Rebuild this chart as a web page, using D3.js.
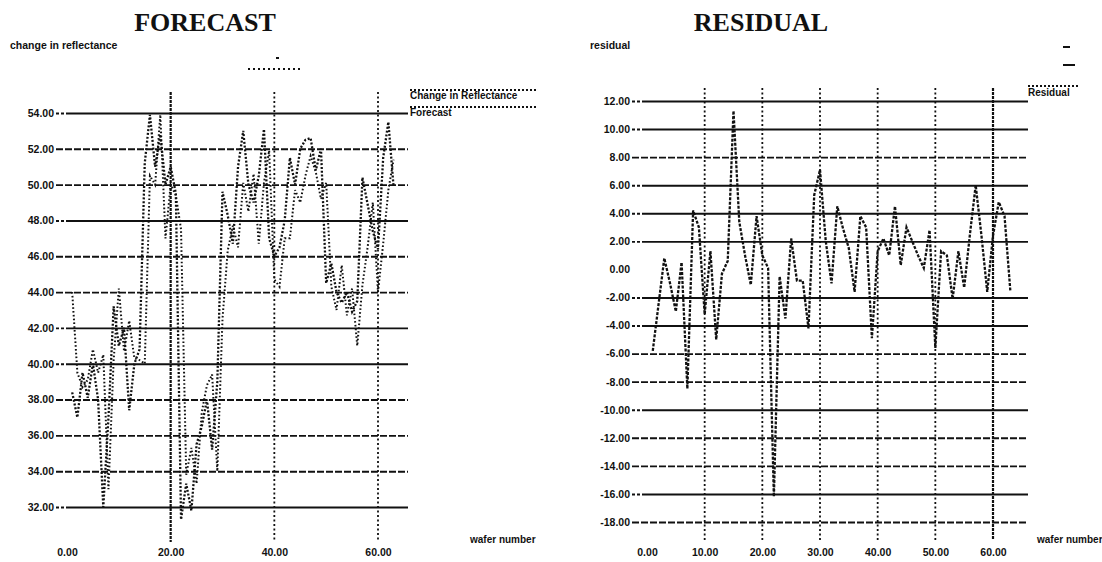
<!DOCTYPE html>
<html>
<head>
<meta charset="utf-8">
<script src="https://cdn.jsdelivr.net/npm/d3@7"></script>
<style>
  body { margin: 0; background: #fff; }
  svg text { font-family: "Liberation Sans", Arial, sans-serif; font-weight: bold; fill: #111; }
  svg .title { font-family: "Liberation Serif", "Times New Roman", serif; }
</style>
</head>
<body>
<svg id="chart" width="1102" height="562"></svg>
<script>
// wafer index (about 63 wafers)
const wafer = [1, 2, 3, 4, 5, 6, 7, 8, 9, 10, 11, 12, 13, 14, 15, 16, 17, 18, 19, 20,
  21, 22, 23, 24, 25, 26, 27, 28, 29, 30, 31, 32, 33, 34, 35, 36, 37, 38, 39, 40,
  41, 42, 43, 44, 45, 46, 47, 48, 49, 50, 51, 52, 53, 54, 55, 56, 57, 58, 59, 60,
  61, 62, 63];

const reflectance = [38.4, 37.0, 39.5, 38.1, 40.0, 38.0, 32.0, 37.0, 43.2, 41.0,
  42.0, 37.4, 40.0, 40.8, 51.2, 53.9, 51.0, 52.8, 50.0, 51.0,
  49.5, 31.3, 33.3, 31.8, 35.5, 36.5, 38.0, 35.2, 39.0, 49.6,
  48.3, 46.7, 51.0, 53.0, 50.0, 49.0, 50.5, 53.1, 47.0, 46.0,
  46.5, 48.0, 51.5, 50.0, 52.0, 52.5, 52.6, 50.8, 52.0, 44.5,
  45.6, 44.0, 43.4, 44.0, 42.9, 43.5, 50.4, 48.9, 47.4, 46.4,
  51.5, 53.5, 49.9];

const forecast = [44.0, 39.5, 38.7, 39.1, 40.8, 39.5, 40.5, 33.0, 40.2, 44.2,
  40.7, 42.4, 40.3, 40.2, 40.0, 50.5, 50.0, 53.9, 47.0, 50.0,
  49.4, 47.5, 33.8, 35.3, 33.3, 37.3, 38.8, 39.4, 34.0, 42.5,
  46.3, 47.7, 46.5, 50.1, 48.5, 50.6, 46.7, 50.1, 51.9, 44.7,
  44.3, 47.0, 47.0, 49.7, 49.0, 50.5, 51.6, 50.7, 49.2, 50.1,
  44.3, 43.0, 45.5, 42.7, 44.2, 41.0, 44.4, 46.5, 49.0, 44.0,
  46.7, 49.7, 51.4];

const residual = [-5.8, -2.5, 0.8, -1.0, -3.0, 0.5, -8.5, 4.2, 3.0, -3.2,
  1.3, -5.0, -0.3, 0.6, 11.3, 3.4, 1.0, -1.1, 3.8, 1.0,
  0.1, -16.2, -0.5, -3.5, 2.2, -0.8, -0.8, -4.2, 5.3, 7.1,
  2.0, -1.0, 4.5, 2.9, 1.5, -1.6, 3.8, 3.0, -4.9, 1.3,
  2.2, 1.0, 4.5, 0.3, 3.0, 2.0, 1.0, 0.1, 2.8, -5.6,
  1.3, 1.0, -2.1, 1.3, -1.3, 2.5, 6.0, 2.4, -1.6, 2.4,
  4.8, 3.8, -1.5];

const forecastYTicks = [32, 34, 36, 38, 40, 42, 44, 46, 48, 50, 52, 54];
const forecastXTicks = [0, 20, 40, 60];
const forecastVLines = [20, 40, 60];
const residualYTicks = [-18, -16, -14, -12, -10, -8, -6, -4, -2, 0, 2, 4, 6, 8, 10, 12];
const residualXTicks = [0, 10, 20, 30, 40, 50, 60];
const residualVLines = [10, 20, 30, 40, 50, 60];

const svg = d3.select('#chart');
const fmt = d3.format('.2f');

function panel(o) {
  const g = svg.append('g');
  const x = d3.scaleLinear().domain([0, 60]).range(o.xRange);
  const y = d3.scaleLinear().domain(o.yDomain).range(o.yRange);

  g.append('text')
    .attr('class', 'title')
    .attr('x', o.titleX).attr('y', 31)
    .attr('text-anchor', 'middle')
    .attr('font-size', 26)
    .text(o.title);

  g.append('text')
    .attr('x', o.yLabelX).attr('y', 49)
    .attr('font-size', 10.5)
    .text(o.yLabel);

  // horizontal grid with the tick labels
  g.append('g')
    .attr('transform', `translate(${o.axisX},0)`)
    .call(d3.axisLeft(y).tickValues(o.yTicks).tickFormat(d => fmt(d).replace('−', '-'))
      .tickSize(-(o.gridEnd - o.axisX)).tickPadding(2))
    .call(a => a.select('.domain').remove())
    .call(a => a.selectAll('.tick line')
      .attr('stroke', '#111')
      .attr('stroke-width', 1.9)
      .attr('stroke-dasharray', d => o.dashed.includes(d) ? '7,2' : '3,2,3,2,2000')
      .attr('opacity', d => o.noLine.includes(d) ? 0 : 1))
    .call(a => a.selectAll('.tick text')
      .attr('font-family', null).attr('font-size', 10.5).attr('fill', '#111'));

  // vertical dotted grid
  g.selectAll('.vgrid')
    .data(o.vLines)
    .join('line')
    .attr('x1', d => x(d)).attr('x2', d => x(d))
    .attr('y1', o.vTop).attr('y2', o.vBottom)
    .attr('stroke', '#111')
    .attr('stroke-width', d => d === o.strongV ? 2.2 : 1.8)
    .attr('stroke-dasharray', d => d === o.strongV ? '3,1' : '2,2.5');

  // x labels
  g.append('g')
    .attr('transform', `translate(0,${o.xAxisY})`)
    .call(d3.axisBottom(x).tickValues(o.xTicks).tickFormat(fmt).tickSize(0).tickPadding(0))
    .call(a => a.select('.domain').remove())
    .call(a => a.selectAll('.tick text')
      .attr('font-family', null).attr('font-size', 10.5).attr('fill', '#111'));

  g.append('text')
    .attr('x', o.xLabelX).attr('y', 543)
    .attr('font-size', 10)
    .text('wafer number');

  o.series.forEach(s => {
    const line = d3.line()
      .x((d, i) => x(wafer[i]))
      .y(d => y(d));
    g.append('path')
      .datum(s.values)
      .attr('d', line)
      .attr('fill', 'none')
      .attr('stroke', '#111')
      .attr('stroke-width', s.width)
      .attr('stroke-dasharray', s.dash);
  });

  // legend
  o.legend.forEach(l => {
    g.append('line')
      .attr('x1', l.x).attr('x2', l.x + l.len)
      .attr('y1', l.lineY).attr('y2', l.lineY)
      .attr('stroke', '#111').attr('stroke-width', 2)
      .attr('stroke-dasharray', '2,2');
    g.append('text')
      .attr('x', l.x).attr('y', l.textY)
      .attr('font-size', 10)
      .text(l.label);
  });

  return { x, y };
}

panel({
  title: 'FORECAST', titleX: 205,
  yLabel: 'change in reflectance', yLabelX: 10,
  xRange: [67, 378], yDomain: [32, 54], yRange: [507, 113],
  axisX: 56, gridEnd: 408,
  yTicks: forecastYTicks, xTicks: forecastXTicks,
  dashed: [52, 50, 46, 44, 38, 36, 34], noLine: [],
  vLines: forecastVLines, strongV: 20, vTop: 92, vBottom: 542,
  xAxisY: 549, xLabelX: 470,
  series: [
    { values: reflectance, width: 2.3, dash: '2,1.8' },
    { values: forecast, width: 2, dash: '1.6,2.2' }
  ],
  legend: [
    { label: 'Change in Reflectance', x: 410, len: 127, lineY: 90, textY: 99 },
    { label: 'Forecast', x: 410, len: 127, lineY: 107, textY: 116 }
  ]
});

panel({
  title: 'RESIDUAL', titleX: 761,
  yLabel: 'residual', yLabelX: 590,
  xRange: [647, 993], yDomain: [-18, 12], yRange: [522, 101],
  axisX: 632, gridEnd: 1028,
  yTicks: residualYTicks, xTicks: residualXTicks,
  dashed: [8, -6, -8, -12, -14, -18], noLine: [0],
  vLines: residualVLines, strongV: 60, vTop: 88, vBottom: 540,
  xAxisY: 549, xLabelX: 1037,
  series: [
    { values: residual, width: 2.3, dash: '3,1.5' }
  ],
  legend: [
    { label: 'Residual', x: 1028, len: 50, lineY: 86, textY: 96 }
  ]
});

// stray marks on the scan
const marks = [
  { x1: 248, x2: 302, y: 69, dash: '2,3' },
  { x1: 276, x2: 279, y: 58, dash: null },
  { x1: 1063, x2: 1070, y: 47, dash: null },
  { x1: 1063, x2: 1075, y: 65, dash: null }
];
svg.selectAll('.mark')
  .data(marks)
  .join('line')
  .attr('x1', d => d.x1).attr('x2', d => d.x2)
  .attr('y1', d => d.y).attr('y2', d => d.y)
  .attr('stroke', '#111').attr('stroke-width', 2)
  .attr('stroke-dasharray', d => d.dash);
</script>
</body>
</html>
